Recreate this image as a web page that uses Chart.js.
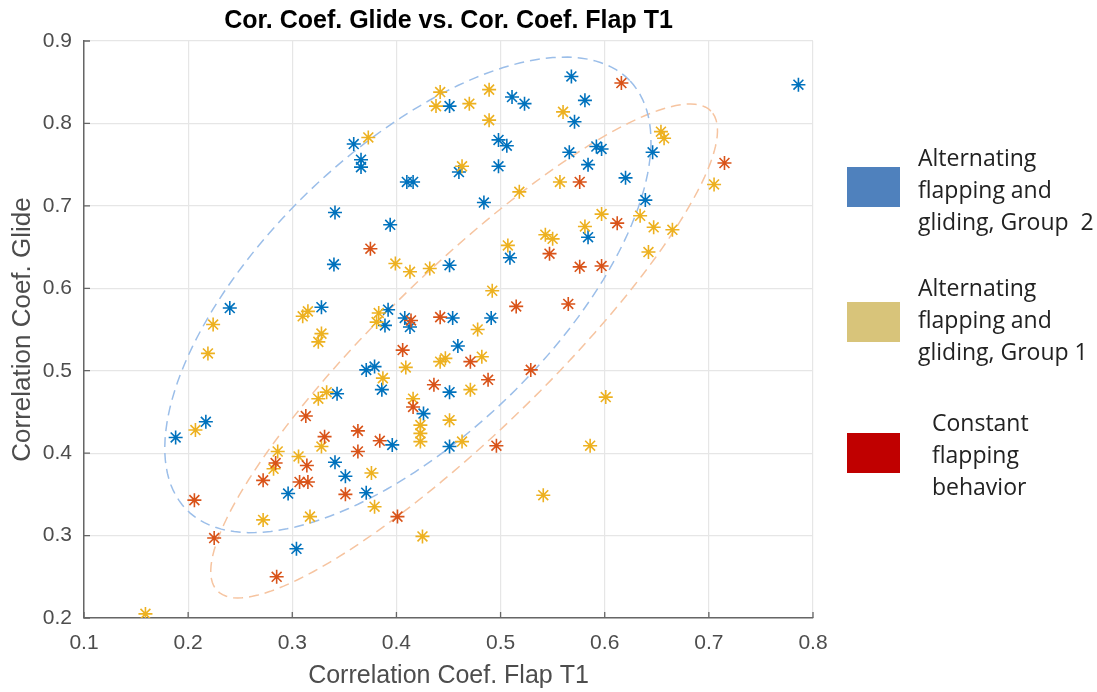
<!DOCTYPE html>
<html>
<head>
<meta charset="utf-8">
<script src="https://cdn.jsdelivr.net/npm/chart.js@4.4.1/dist/chart.umd.min.js"></script>
<style>
  body { margin: 0; background: #fff; }
  #wrap { position: relative; width: 1097px; height: 692px; }
  #chart { position: absolute; left: 0; top: 0; }
  .key { position: absolute; left: 847px; width: 53px; height: 40px; }
  .lbl { position: absolute; font-family: "Open Sans", sans-serif; font-size: 23px; line-height: 32px; color: #222; white-space: nowrap; }
</style>
</head>
<body>
<div id="wrap">
  <canvas id="chart" width="1097" height="692"></canvas>
  <div class="key" style="top:167px;background:#4f81bd"></div>
  <div class="lbl" style="left:918px;top:141px">Alternating<br>flapping and<br>gliding, Group&nbsp; 2</div>
  <div class="key" style="top:302px;background:#d8c47a"></div>
  <div class="lbl" style="left:918px;top:271px">Alternating<br>flapping and<br>gliding, Group 1</div>
  <div class="key" style="top:433px;background:#c00000"></div>
  <div class="lbl" style="left:932px;top:406px">Constant<br>flapping<br>behavior</div>
</div>
<script>
// ===== datos =====
const xTicks = [0.1, 0.2, 0.3, 0.4, 0.5, 0.6, 0.7, 0.8];
const yTicks = [0.2, 0.3, 0.4, 0.5, 0.6, 0.7, 0.8, 0.9];

// Alternating flapping and gliding, Group 2 (azul)
const g2X = [0.451,0.359,0.366,0.366,0.410,0.416,0.460,0.341,0.394,0.340,0.451,0.240,0.328,0.392,0.389,0.408,0.413,0.454,0.568,0.786,0.581,0.511,0.523,0.571,0.498,0.506,0.566,0.592,0.597,0.646,0.498,0.584,0.620,0.484,0.639,0.584,0.509,0.491,0.459,0.371,0.379,0.386,0.451,0.343,0.426,0.396,0.451,0.341,0.351,0.371,0.296,0.304,0.217,0.188];
const g2Y = [0.821,0.775,0.756,0.747,0.729,0.729,0.741,0.692,0.677,0.629,0.628,0.576,0.577,0.574,0.555,0.564,0.553,0.564,0.857,0.847,0.828,0.832,0.824,0.802,0.780,0.773,0.765,0.772,0.769,0.765,0.748,0.750,0.734,0.704,0.707,0.662,0.637,0.564,0.530,0.501,0.505,0.477,0.474,0.472,0.448,0.410,0.408,0.389,0.372,0.352,0.351,0.284,0.438,0.419];

// Alternating flapping and gliding, Group 1 (amarillo)
const g1X = [0.442,0.438,0.373,0.463,0.399,0.413,0.432,0.224,0.219,0.310,0.315,0.383,0.381,0.328,0.325,0.489,0.470,0.489,0.560,0.654,0.657,0.705,0.518,0.557,0.597,0.634,0.647,0.665,0.581,0.543,0.550,0.507,0.642,0.492,0.478,0.442,0.447,0.482,0.409,0.387,0.471,0.325,0.333,0.416,0.423,0.423,0.423,0.451,0.463,0.328,0.306,0.286,0.282,0.376,0.379,0.272,0.317,0.425,0.207,0.159,0.601,0.586,0.541];
const g1Y = [0.838,0.821,0.783,0.748,0.630,0.620,0.624,0.556,0.521,0.566,0.572,0.570,0.559,0.545,0.535,0.841,0.824,0.804,0.814,0.790,0.782,0.726,0.717,0.729,0.690,0.688,0.674,0.671,0.675,0.665,0.660,0.652,0.644,0.597,0.550,0.511,0.515,0.517,0.504,0.491,0.477,0.466,0.474,0.466,0.434,0.424,0.414,0.440,0.414,0.408,0.396,0.402,0.381,0.376,0.335,0.319,0.323,0.299,0.428,0.205,0.468,0.409,0.349];

// Constant flapping behavior (rojo)
const cfX = [0.375,0.616,0.715,0.576,0.612,0.547,0.576,0.597,0.515,0.565,0.442,0.414,0.406,0.471,0.436,0.488,0.529,0.416,0.313,0.363,0.331,0.384,0.363,0.496,0.284,0.314,0.307,0.315,0.272,0.351,0.401,0.206,0.225,0.285];
const cfY = [0.648,0.849,0.752,0.729,0.679,0.642,0.626,0.627,0.578,0.581,0.565,0.561,0.525,0.511,0.483,0.489,0.501,0.456,0.445,0.427,0.420,0.415,0.402,0.409,0.388,0.385,0.365,0.365,0.367,0.350,0.323,0.343,0.297,0.250];

// elipses (centro + semiejes conjugados, en unidades de datos)
const blueEllCenter = [0.411, 0.592];
const blueEllU = [0.213, 0.260];
const blueEllV = [-0.0955, 0.125];
const orangeEllCenter = [0.465, 0.524];
const orangeEllU = [0.237, 0.291];
const orangeEllV = [-0.055, 0.0713];

// ===== utilidades =====
function pairs(xs, ys) {
  return xs.map((x, i) => ({ x: x, y: ys[i] }));
}

function ellipse(c, u, v) {
  const pts = [];
  const n = 160;
  for (let k = 0; k <= n; k++) {
    const t = 2 * Math.PI * k / n;
    pts.push({ x: c[0] + u[0] * Math.cos(t) + v[0] * Math.sin(t),
               y: c[1] + u[1] * Math.cos(t) + v[1] * Math.sin(t) });
  }
  return pts;
}

function starSet(label, data, color, order) {
  return {
    label: label, data: data, order: order,
    pointStyle: 'star', pointRadius: 7, pointHoverRadius: 7,
    pointBorderWidth: 1.6, borderColor: color, backgroundColor: color,
    showLine: false
  };
}

function ellSet(data, color) {
  return {
    label: '', data: data, order: 10, type: 'line', showLine: true,
    borderColor: color, borderWidth: 1.5, borderDash: [10, 6],
    pointRadius: 0, fill: false, tension: 0
  };
}

// ticks hacia dentro (estilo MATLAB)
const inwardTicks = {
  id: 'inwardTicks',
  afterDraw(chart) {
    const { ctx, chartArea, scales } = chart;
    ctx.save();
    ctx.strokeStyle = '#666';
    ctx.lineWidth = 1.3;
    ctx.beginPath();
    xTicks.forEach(v => {
      const px = scales.x.getPixelForValue(v);
      ctx.moveTo(px, chartArea.bottom);
      ctx.lineTo(px, chartArea.bottom - 6);
    });
    yTicks.forEach(v => {
      const py = scales.y.getPixelForValue(v);
      ctx.moveTo(chartArea.left, py);
      ctx.lineTo(chartArea.left + 6, py);
    });
    ctx.stroke();
    ctx.restore();
  }
};

const FONT = '"Liberation Sans", Arial, sans-serif';

new Chart(document.getElementById('chart').getContext('2d'), {
  type: 'scatter',
  data: {
    datasets: [
      starSet('Alternating flapping and gliding, Group 2', pairs(g2X, g2Y), '#0072bd', 3),
      starSet('Alternating flapping and gliding, Group 1', pairs(g1X, g1Y), '#edb120', 2),
      starSet('Constant flapping behavior', pairs(cfX, cfY), '#d95319', 1),
      ellSet(ellipse(blueEllCenter, blueEllU, blueEllV), '#9bbee9'),
      ellSet(ellipse(orangeEllCenter, orangeEllU, orangeEllV), '#f6c4a0')
    ]
  },
  options: {
    responsive: false, animation: false, devicePixelRatio: 1,
    layout: { padding: { left: 0, right: 284, top: 0, bottom: 0 } },
    plugins: {
      legend: { display: false },
      tooltip: { enabled: false },
      title: {
        display: true, fullSize: false,
        text: 'Cor. Coef. Glide vs. Cor. Coef. Flap T1',
        color: '#000',
        font: { family: FONT, size: 25, weight: 'bold' },
        padding: { top: 6, bottom: 5 }
      }
    },
    scales: {
      x: {
        type: 'linear', min: 0.1, max: 0.8,
        afterFit(scale) { scale.height = 74; },
        afterBuildTicks(scale) { scale.ticks = xTicks.map(v => ({ value: v })); },
        ticks: { color: '#4d4d4d', padding: 13, font: { family: FONT, size: 21 },
                 callback: v => v.toFixed(1) },
        grid: { color: '#e6e6e6', lineWidth: 1.2, drawTicks: false },
        border: { color: '#666', width: 1.5 },
        title: { display: true, text: 'Correlation Coef. Flap T1', color: '#4d4d4d',
                 font: { family: FONT, size: 25 }, padding: { top: 0, bottom: 1 } }
      },
      y: {
        type: 'linear', min: 0.2, max: 0.9,
        afterFit(scale) { scale.width = 84; },
        afterBuildTicks(scale) { scale.ticks = yTicks.map(v => ({ value: v })); },
        ticks: { color: '#4d4d4d', padding: 12, font: { family: FONT, size: 21 },
                 callback: v => v.toFixed(1) },
        grid: { color: '#e6e6e6', lineWidth: 1.2, drawTicks: false },
        border: { color: '#666', width: 1.5 },
        title: { display: true, text: 'Correlation Coef. Glide', color: '#4d4d4d',
                 font: { family: FONT, size: 26 }, padding: { top: 7.4, bottom: 0 } }
      }
    }
  },
  plugins: [inwardTicks]
});
</script>
</body>
</html>
